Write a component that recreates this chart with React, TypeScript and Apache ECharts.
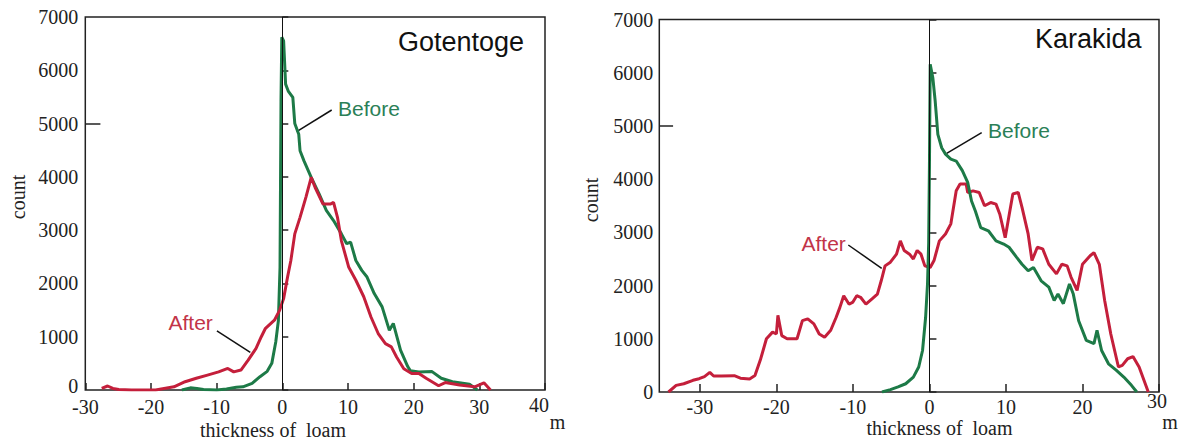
import React, { useEffect, useRef } from "react";
import * as echarts from "echarts";

// Gotentoge: thickness of loam (m) vs count
const gotBefore: [number, number][] = [
  [-15.3, 0], [-14, 40], [-13, 30], [-12, 10], [-10, 0], [-8.5, 20], [-7, 50], [-6, 60],
  [-4.6, 125], [-3.4, 250], [-2.3, 350], [-1.6, 500], [-1.0, 900], [-0.6, 1300], [-0.35, 2300],
  [-0.2, 5430], [-0.08, 6620], [0.2, 6550], [0.5, 5740], [0.9, 5610], [1.6, 5490], [1.9, 5000],
  [2.5, 4800], [2.7, 4490], [3.3, 4300], [4.4, 3990], [5.6, 3680], [6.7, 3370], [7.8, 3180],
  [9.0, 2930], [9.8, 2745], [10.4, 2775], [11.2, 2430], [12.1, 2245], [12.9, 2120], [14.0, 1810],
  [15.2, 1560], [16.3, 1120], [16.9, 1250], [18.0, 750], [19.1, 440], [19.5, 360], [20.8, 340],
  [22.8, 345], [24.2, 220], [25.9, 155], [28.5, 110], [29.7, 0],
];
const gotAfter: [number, number][] = [
  [-27.5, 30], [-26.6, 75], [-25.8, 30], [-24.9, 10], [-23, 0], [-19.3, 0], [-16.5, 60],
  [-14.8, 155], [-13.1, 220], [-11.4, 280], [-9.7, 340], [-8.3, 405], [-7.4, 340], [-6.3, 375],
  [-5.2, 560], [-4.0, 780], [-3.2, 1000], [-2.6, 1150], [-1.2, 1310], [-0.4, 1500], [0.2, 1715],
  [0.8, 2120], [1.3, 2430], [1.9, 2930], [2.7, 3240], [3.6, 3620], [4.4, 3990], [5.0, 3800],
  [6.2, 3490], [7.3, 3490], [7.8, 3520], [8.4, 3240], [9.0, 2800], [10.1, 2310], [11.2, 2060],
  [12.4, 1750], [13.5, 1370], [14.6, 1060], [15.7, 870], [16.6, 810], [17.4, 620], [18.5, 400],
  [19.7, 310], [20.8, 310], [21.9, 220], [23.8, 80], [24.8, 140], [27.0, 95], [29.3, 60],
  [30.7, 135], [31.7, 0],
];

// Karakida
const karBefore: [number, number][] = [
  [-6.2, 0], [-5.1, 45], [-4.1, 95], [-3.1, 155], [-2.1, 280], [-1.4, 470], [-0.9, 780],
  [-0.5, 1400], [-0.25, 2030], [-0.1, 2800], [0, 4220], [0.1, 6160], [0.45, 5900], [0.75, 5470],
  [1.1, 4840], [1.6, 4590], [2.1, 4470], [2.8, 4375], [3.5, 4340], [4.3, 4160], [5.0, 3940],
  [5.5, 3590], [6.0, 3400], [6.7, 3090], [7.7, 3030], [8.7, 2840], [9.7, 2780], [10.4, 2720],
  [11.4, 2530], [12.1, 2400], [12.9, 2280], [13.6, 2340], [14.6, 2090], [15.6, 1970], [16.3, 1720],
  [16.8, 1840], [17.5, 1660], [18.3, 2030], [18.8, 1840], [19.5, 1340], [20.5, 970], [21.5, 910],
  [21.9, 1160], [22.5, 780], [23.4, 530], [24.4, 410], [25.4, 280], [26.4, 125], [27.1, 0],
];
const karAfter: [number, number][] = [
  [-34.1, 0], [-33.1, 125], [-32.1, 155], [-30.9, 220], [-30.1, 250], [-29.4, 290], [-28.7, 370],
  [-28.2, 300], [-27.2, 300], [-25.5, 306], [-24.7, 260], [-23.5, 245], [-22.8, 310], [-22.1, 600],
  [-21.3, 1000], [-20.5, 1125], [-20.0, 1090], [-19.8, 1440], [-19.3, 1060], [-18.6, 1000],
  [-17.3, 1000], [-16.6, 1340], [-15.9, 1375], [-15.1, 1280], [-14.4, 1090], [-13.7, 1030],
  [-12.9, 1160], [-12.2, 1400], [-11.7, 1590], [-11.2, 1810], [-10.5, 1650], [-10.0, 1690],
  [-9.5, 1810], [-9.0, 1780], [-8.3, 1650], [-7.5, 1750], [-6.8, 1840], [-6.3, 2090], [-5.8, 2370],
  [-5.1, 2440], [-4.3, 2590], [-3.8, 2840], [-3.3, 2660], [-2.6, 2590], [-2.1, 2500], [-1.6, 2660],
  [-1.1, 2590], [-0.6, 2370], [0.1, 2340], [0.6, 2470], [1.3, 2840], [2.1, 2970], [2.8, 3160],
  [3.5, 3780], [4.0, 3910], [4.8, 3910], [5.0, 3750], [5.7, 3780], [6.5, 3750], [7.2, 3500],
  [8.0, 3560], [8.7, 3530], [9.2, 3340], [9.9, 2900], [10.4, 3310], [10.9, 3720], [11.6, 3750],
  [12.1, 3470], [12.9, 2970], [13.4, 2470], [14.1, 2720], [14.8, 2690], [15.6, 2400], [16.6, 2220],
  [17.3, 2400], [18.0, 2370], [18.5, 2160], [19.3, 1910], [20.0, 2400], [21.0, 2560], [21.5, 2620],
  [22.2, 2400], [22.9, 1720], [23.7, 1090], [24.7, 470], [25.2, 500], [25.9, 625], [26.6, 665],
  [27.4, 470], [28.6, 0],
];

const xTicksRight = [-30, -20, -10, 0, 10, 20, 30];
const xLabelsRight = [-30, -20, -10, 0, 10, 20];

const GREEN = "#1d7a47";
const RED = "#c41f3b";
const GREEN_TXT = "#2b8057";
const RED_TXT = "#c23448";
const INK = "#222";
const SERIF = "'Liberation Serif', 'Times New Roman', serif";
const SANS = "'Liberation Sans', Arial, sans-serif";

export default function App() {
  const ref = useRef<HTMLDivElement>(null);

  useEffect(() => {
    if (!ref.current) return;
    const chart = echarts.init(ref.current, undefined, { renderer: "svg" });

    const axisLabel = {
      color: INK, fontFamily: SERIF, fontSize: 20,
      formatter: (v: number) => String(v),
    };
    const tickStyle = { color: INK, width: 1.5 };

    const zeroLine = (tickFrom: number, tickTo: number) => ({
      silent: true,
      symbol: ["none", "none"],
      label: { show: false },
      data: [
        { xAxis: 0, lineStyle: { color: "#111", width: 1, type: "solid" } },
        [
          { coord: [tickFrom, 5000], lineStyle: { color: INK, width: 1.5, type: "solid" } },
          { coord: [tickTo, 5000] },
        ],
      ],
    });

    const txt = (text: string, x: number, y: number, font: string, size: number, color: string, align = "left", rotation = 0) => ({
      type: "text",
      x,
      y,
      rotation,
      style: {
        text,
        fill: color,
        font: `${size}px ${font}`,
        textAlign: align,
        textVerticalAlign: "middle",
      },
    });
    const seg = (x1: number, y1: number, x2: number, y2: number) => ({
      type: "line",
      shape: { x1, y1, x2, y2 },
      style: { stroke: "#111", lineWidth: 1.5 },
    });

    chart.setOption({
      animation: false,
      grid: [
        { left: 85.3, top: 17, width: 459.7, height: 373, show: true, borderColor: INK, borderWidth: 1.5, backgroundColor: "transparent" },
        { left: 659.3, top: 19.5, width: 499.7, height: 372.5, show: true, borderColor: INK, borderWidth: 1.5, backgroundColor: "transparent" },
      ],
      xAxis: [
        {
          gridIndex: 0, type: "value", min: -30, max: 40, interval: 10,
          axisLine: { show: false }, splitLine: { show: false },
          axisTick: { inside: true, length: 7, lineStyle: tickStyle },
          axisLabel: { ...axisLabel, margin: 7, formatter: (v: number) => (v === 40 ? "" : String(v)) },
        },
        {
          gridIndex: 1, type: "value", min: -35.3, max: 30,
          axisLine: { show: false }, splitLine: { show: false },
          axisTick: { inside: true, length: 8, lineStyle: tickStyle, customValues: xTicksRight },
          axisLabel: {
            ...axisLabel, margin: 5, customValues: xLabelsRight,
            formatter: (v: number) => (Math.abs(v % 10) < 1e-6 && v < 30 ? String(v) : ""),
          },
        },
      ],
      yAxis: [
        {
          gridIndex: 0, type: "value", min: 0, max: 7000, interval: 1000,
          axisLine: { show: false }, splitLine: { show: false },
          axisTick: { inside: true, length: 6, lineStyle: tickStyle },
          axisLabel: { ...axisLabel, margin: 7, formatter: (v: number) => (v === 0 ? "" : String(v)) },
        },
        {
          gridIndex: 1, type: "value", min: 0, max: 7000, interval: 1000,
          axisLine: { show: false }, splitLine: { show: false },
          axisTick: { inside: true, length: 7, lineStyle: tickStyle },
          axisLabel: { ...axisLabel, margin: 6 },
        },
      ],
      series: [
        {
          name: "Gotentoge Before", type: "line", xAxisIndex: 0, yAxisIndex: 0, data: gotBefore,
          showSymbol: false, lineStyle: { color: GREEN, width: 3 }, itemStyle: { color: GREEN }, z: 3,
          markLine: zeroLine(-30, -27.7),
        },
        {
          name: "Gotentoge After", type: "line", xAxisIndex: 0, yAxisIndex: 0, data: gotAfter,
          showSymbol: false, lineStyle: { color: RED, width: 3 }, itemStyle: { color: RED }, z: 4,
        },
        {
          name: "Karakida After", type: "line", xAxisIndex: 1, yAxisIndex: 1, data: karAfter,
          showSymbol: false, lineStyle: { color: RED, width: 3 }, itemStyle: { color: RED }, z: 3,
        },
        {
          name: "Karakida Before", type: "line", xAxisIndex: 1, yAxisIndex: 1, data: karBefore,
          showSymbol: false, lineStyle: { color: GREEN, width: 3 }, itemStyle: { color: GREEN }, z: 4,
          markLine: zeroLine(-35.3, -33.5),
        },
      ],
      graphic: [
        txt("Gotentoge", 398, 42, SANS, 27, "#111"),
        txt("Karakida", 1035, 39, SANS, 27, "#111"),
        txt("Before", 338, 108, SANS, 21, GREEN_TXT),
        txt("After", 168.5, 322, SANS, 21, RED_TXT),
        txt("Before", 988, 130, SANS, 21, GREEN_TXT),
        txt("After", 801.5, 243, SANS, 21, RED_TXT),
        seg(331.7, 110, 296.7, 131.7),
        seg(216.9, 330.8, 250.3, 352.4),
        seg(981.7, 132.7, 946.7, 153.3),
        seg(848.3, 245, 881.7, 268.3),
        txt("0", 78.3, 386, SERIF, 20, INK, "right"),
        txt("40", 539, 405, SERIF, 20, INK, "center"),
        txt("count", 18, 197, SERIF, 20, INK, "center", Math.PI / 2),
        txt("count", 591, 200, SERIF, 20, INK, "center", Math.PI / 2),
        txt("thickness of\u00a0 loam", 273, 430, SERIF, 20, INK, "center"),
        txt("thickness of\u00a0 loam", 939.5, 428, SERIF, 20, INK, "center"),
        txt("m", 557.5, 422, SERIF, 20, INK, "center"),
        txt("30", 1157, 401, SERIF, 20, INK, "center"),
        txt("m", 1170, 422, SERIF, 20, INK, "center"),
      ],
    });

    return () => chart.dispose();
  }, []);

  return (
    <div
      ref={ref}
      style={{ position: "absolute", left: 0, top: 0, width: 1179, height: 441, background: "#fff" }}
    />
  );
}
